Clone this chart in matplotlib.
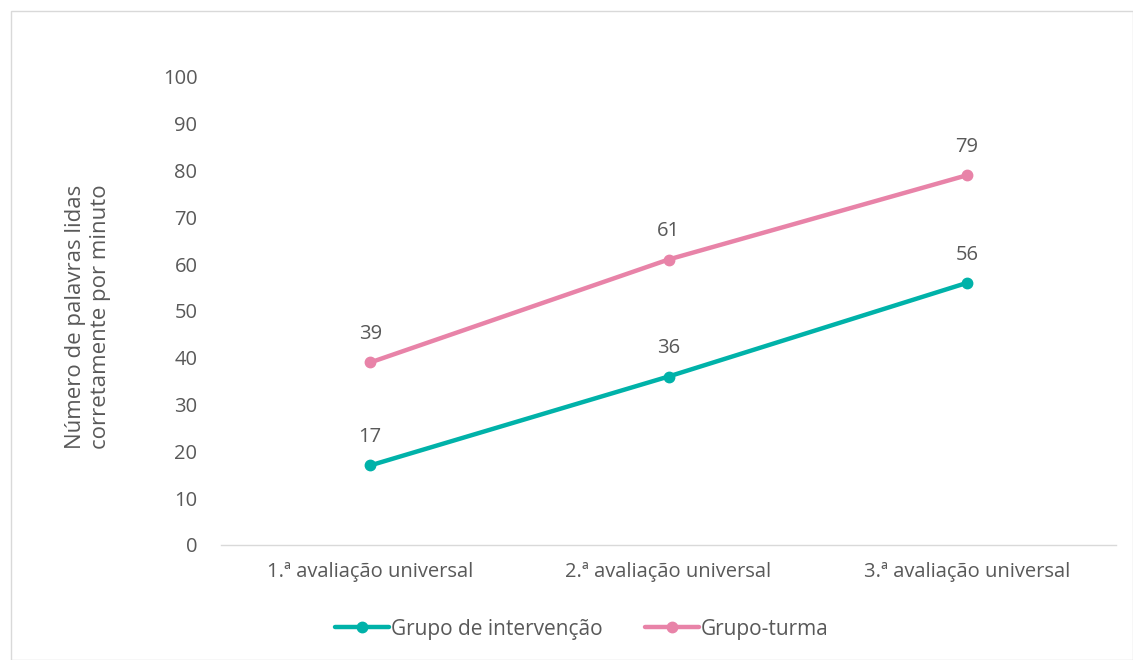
import matplotlib.pyplot as plt
from matplotlib.patches import Rectangle

# data
categories = ['1.ª avaliação universal', '2.ª avaliação universal', '3.ª avaliação universal']
intervencao = [17, 36, 56]
turma = [39, 61, 79]

grey = '#595959'
teal = '#00B2A9'
pink = '#E883A8'

plt.rcParams['font.family'] = ['Open Sans', 'DejaVu Sans']

fig = plt.figure(figsize=(11.33, 6.6), dpi=100)
# light outer frame like the office chart
fig.patches.append(Rectangle((11 / 1133, 0), 1 - 11 / 1133, 1 - 11 / 660, transform=fig.transFigure,
                             fill=False, edgecolor='#D9D9D9', linewidth=1))

ax = fig.add_axes([221 / 1133, 1 - 545 / 660, (1116 - 221) / 1133, (545 - 77) / 660])

x = range(len(categories))
ax.plot(x, intervencao, color=teal, lw=3.2, marker='o', ms=7.5, label='Grupo de intervenção',
        solid_capstyle='round')
ax.plot(x, turma, color=pink, lw=3.2, marker='o', ms=7.5, label='Grupo-turma',
        solid_capstyle='round')

# data labels
for series in [intervencao, turma]:
    for i, v in enumerate(series):
        ax.annotate(str(v), (i, v), xytext=(0, 13), textcoords='offset points',
                    ha='center', va='bottom', fontsize=14.5, color=grey)

ax.set_xlim(-0.5, 2.5)
ax.set_ylim(0, 100)
ax.set_yticks(range(0, 101, 10))
ax.set_xticks(list(x))
ax.set_xticklabels(categories)
ax.tick_params(axis='both', length=0, labelsize=14.5, labelcolor=grey)
ax.tick_params(axis='y', pad=17)
ax.tick_params(axis='x', pad=12)

for side in ['top', 'right', 'left']:
    ax.spines[side].set_visible(False)
ax.spines['bottom'].set_color('#D9D9D9')
ax.spines['bottom'].set_linewidth(1)

fig.text(88 / 1133, 1 - 317 / 660, 'Número de palavras lidas\ncorretamente por minuto',
         rotation=90, ha='center', va='center', fontsize=16, color=grey, linespacing=1.25)

fig.legend(loc='center', bbox_to_anchor=(582 / 1133, 1 - 629 / 660), ncol=2, frameon=False,
           fontsize=15, labelcolor=grey, handlelength=2.6, handletextpad=0.1, columnspacing=2.0)

fig.savefig('out.png', dpi=100)
